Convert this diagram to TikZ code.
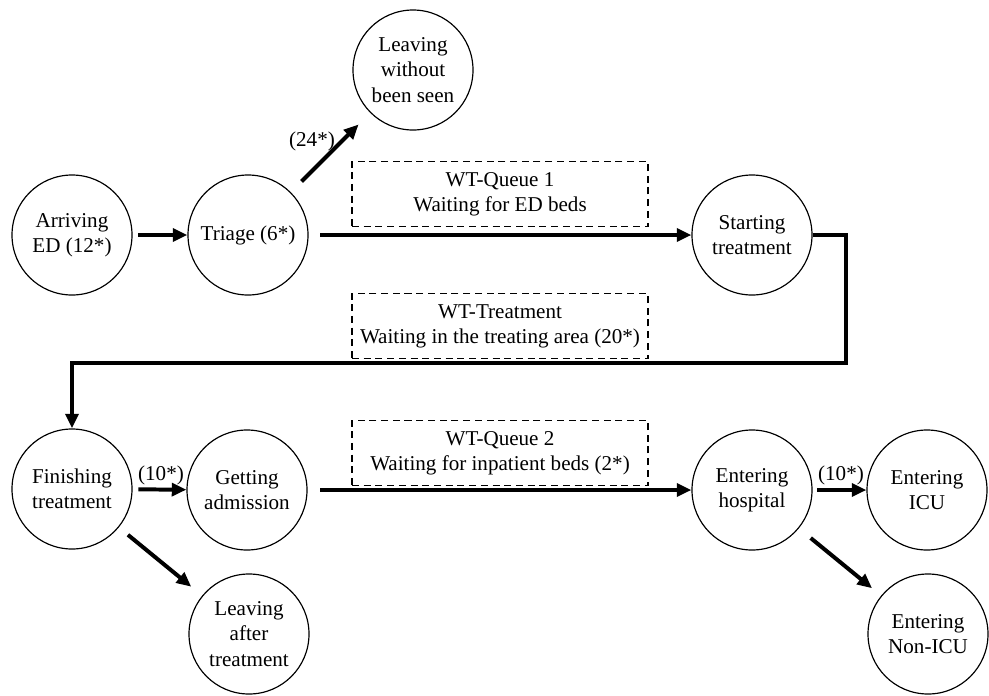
\documentclass[tikz,border=0pt]{standalone}
\usepackage{fontspec}
\setmainfont{Liberation Serif}
\usetikzlibrary{arrows.meta}

\begin{document}
\begin{tikzpicture}[x=0.03cm,y=-0.03cm,
	every node/.style={font=\fontsize{18}{21.5}\selectfont,align=center},
	state/.style={draw,circle,line width=1pt,minimum size=3.6cm,inner sep=0pt},
	wtbox/.style={draw,dash pattern=on 6pt off 4pt,line width=1.1pt,minimum width=8.88cm,minimum height=1.95cm,inner sep=0pt},
	flow/.style={line width=3.4pt,-{Triangle[length=12.5pt,width=11pt]}}]
		\useasboundingbox (0,0) rectangle (989,695);

		\node[state] (arr)  at (72,235)  {Arriving\\ED (12*)};
		\node[state] (tri)  at (248,235) {Triage (6*)};
		\node[state] (lwbs) at (413,70)  {Leaving\\without\\been seen};
		\node[state] (st)   at (752,235) {Starting\\treatment};
		\node[state] (fin)  at (72,489)  {Finishing\\treatment};
		\node[state] (adm)  at (247,490) {Getting\\admission};
		\node[state] (lat)  at (249,634) {Leaving\\after\\treatment};
		\node[state] (hos)  at (752,490) {Entering\\hospital};
		\node[state] (icu)  at (927,490) {Entering\\ICU};
		\node[state] (nicu) at (928,634) {Entering\\Non-ICU};

		\node[wtbox] (q1) at (500,194) {WT-Queue 1\\Waiting for ED beds};
		\node[wtbox] (qt) at (500,326) {WT-Treatment\\Waiting in the treating area (20*)};
		\node[wtbox] (q2) at (500,453) {WT-Queue 2\\Waiting for inpatient beds (2*)};

		\node (p24)  at (312,141) {(24*)};
		\node (p10a) at (161,475) {(10*)};
		\node (p10b) at (841,475) {(10*)};

		\foreach \from/\to/\ga/\gb in {arr/tri/5pt/0pt, tri/lwbs/13pt/14pt, tri/st/10pt/0pt,
			fin/adm/5pt/0pt, fin/lat/10pt/12pt, adm/hos/11pt/0pt,
			hos/icu/4pt/0pt, hos/nicu/13pt/10pt}
			\draw[flow,shorten <=\ga,shorten >=\gb] (\from) -- (\to);

		\coordinate (turn) at (846,363);
		\draw[flow] (st.east) -| (turn) -| (fin.north);
	\end{tikzpicture}
\end{document}
